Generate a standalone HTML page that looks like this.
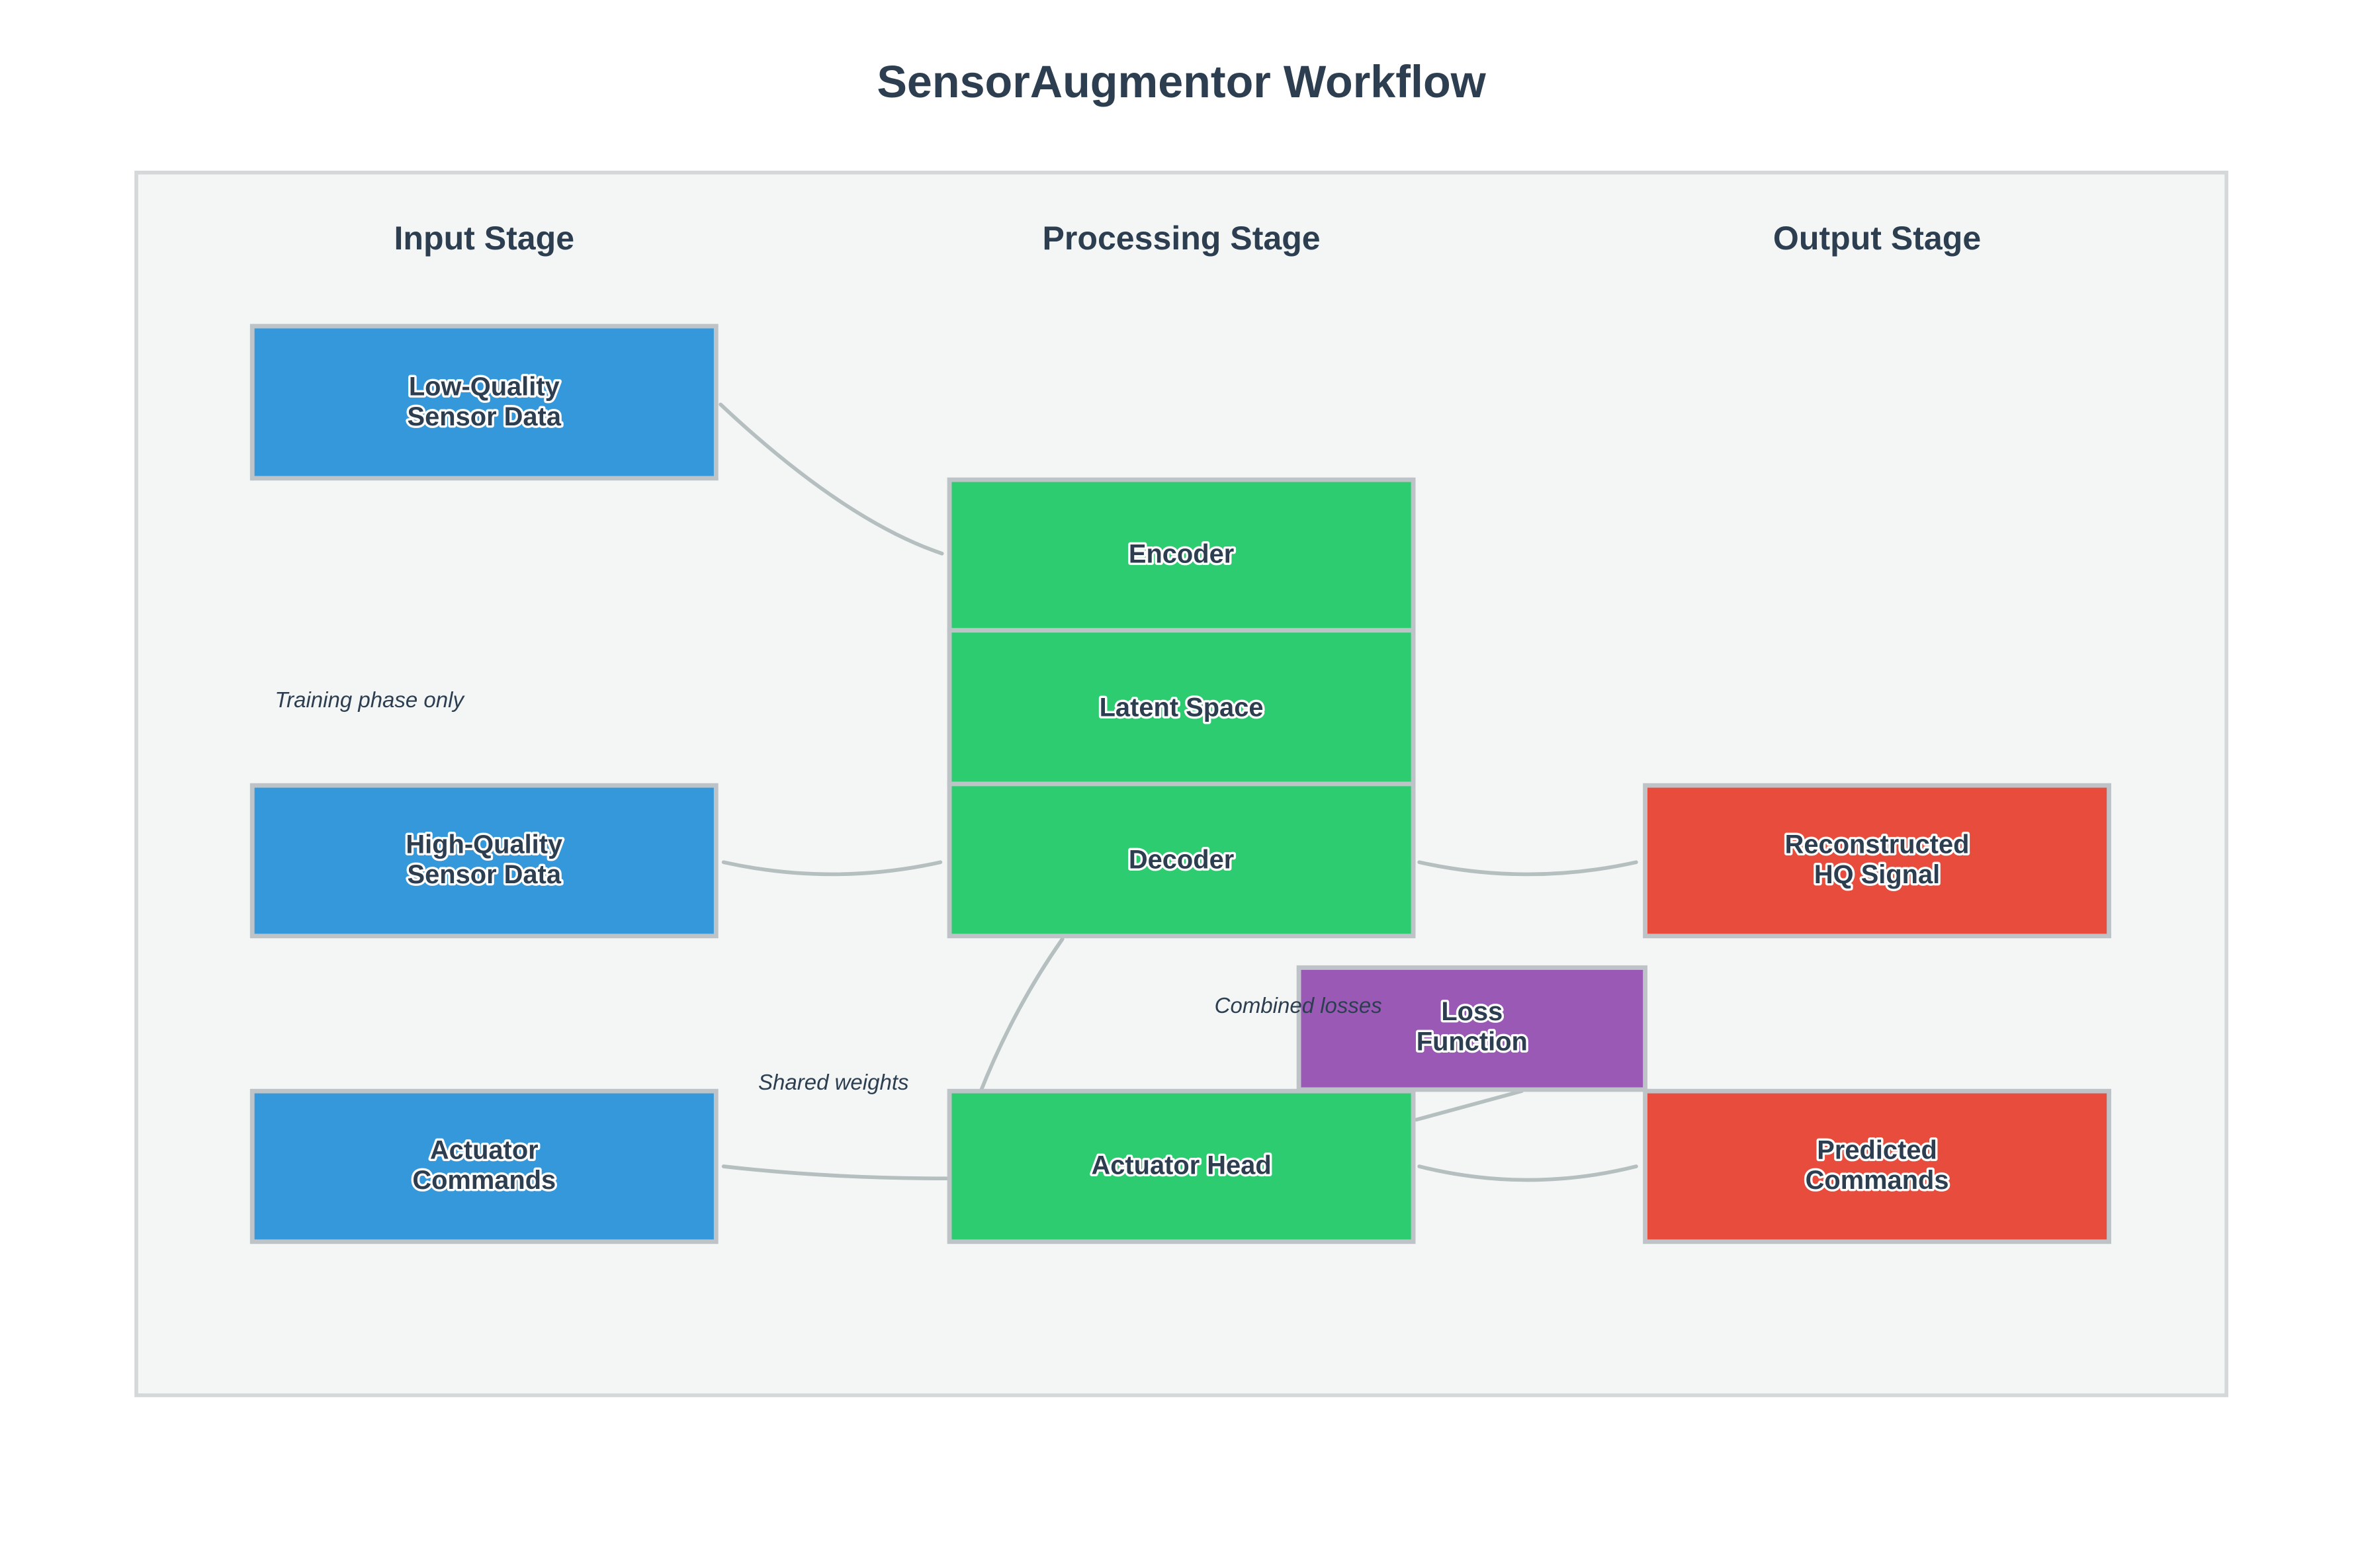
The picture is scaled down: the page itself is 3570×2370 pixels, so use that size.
<!DOCTYPE html>
<html><head><meta charset="utf-8"><style>
html,body{margin:0;padding:0;background:#fff;}
svg{display:block;}
text{font-family:"Liberation Sans",Arial,sans-serif;}
.b{font-weight:bold;font-size:17.5px;fill:#2c3e50;stroke:#fff;stroke-width:3px;paint-order:stroke;stroke-linejoin:round;text-anchor:middle;}
.h{font-weight:bold;font-size:22px;fill:#2c3e50;text-anchor:middle;}
.i{font-style:italic;font-size:14.5px;fill:#2c3e50;}
.c{fill:none;stroke:#b5bfbf;stroke-width:2.5;stroke-linecap:round;}
.n{stroke:#bdc3c7;stroke-width:3;}
</style></head><body>
<svg width="3570" height="2370" viewBox="-0.5 -0.6 1568.5 1041.3">
<rect x="-1" y="-1" width="1572" height="1045" fill="#fff"/>
<text x="784" y="64" style="font-weight:bold;font-size:30px;fill:#2c3e50;text-anchor:middle">SensorAugmentor Workflow</text>
<rect x="90" y="114" width="1388" height="812" fill="#f4f6f5" stroke="#d5d8d8" stroke-width="2.5"/>
<text class="h" x="321" y="165">Input Stage</text>
<text class="h" x="784" y="165">Processing Stage</text>
<text class="h" x="1246" y="165">Output Stage</text>

<path class="c" d="M478,268 Q560,345 625,367"/>
<path class="c" d="M480,572 Q552,588 624,572"/>
<path class="c" d="M942,572 Q1014,588 1086,572"/>
<path class="c" d="M480,774 Q550,782 628,782"/>
<path class="c" d="M942,774 Q1014,792 1086,774"/>
<path class="c" d="M705,623 Q672,670 650,726"/>
<path class="c" d="M940,743 L1010,724"/>

<rect class="n" x="167" y="216" width="308" height="101" fill="#3498db"/>
<rect class="n" x="167" y="521" width="308" height="100" fill="#3498db"/>
<rect class="n" x="167" y="724" width="308" height="100" fill="#3498db"/>
<rect class="n" x="630" y="318" width="308" height="100" fill="#2ecc71"/>
<rect class="n" x="630" y="418" width="308" height="102" fill="#2ecc71"/>
<rect class="n" x="630" y="520" width="308" height="101" fill="#2ecc71"/>
<rect class="n" x="630" y="724" width="308" height="100" fill="#2ecc71"/>
<rect class="n" x="862" y="642" width="230" height="81" fill="#9b59b6"/>
<rect class="n" x="1092" y="521" width="308" height="100" fill="#e74c3c"/>
<rect class="n" x="1092" y="724" width="308" height="100" fill="#e74c3c"/>

<text class="b" x="321" y="262">Low-Quality</text><text class="b" x="321" y="282">Sensor Data</text>
<text class="b" x="321" y="566">High-Quality</text><text class="b" x="321" y="586">Sensor Data</text>
<text class="b" x="321" y="769">Actuator</text><text class="b" x="321" y="789">Commands</text>
<text class="b" x="784" y="373">Encoder</text>
<text class="b" x="784" y="475">Latent Space</text>
<text class="b" x="784" y="576">Decoder</text>
<text class="b" x="784" y="779">Actuator Head</text>
<text class="b" x="977" y="677">Loss</text><text class="b" x="977" y="697">Function</text>
<text class="b" x="1246" y="566">Reconstructed</text><text class="b" x="1246" y="586">HQ Signal</text>
<text class="b" x="1246" y="769">Predicted</text><text class="b" x="1246" y="789">Commands</text>

<text class="i" x="182" y="469">Training phase only</text>
<text class="i" x="503" y="723">Shared weights</text>
<text class="i" x="806" y="672">Combined losses</text>
</svg>
</body></html>
